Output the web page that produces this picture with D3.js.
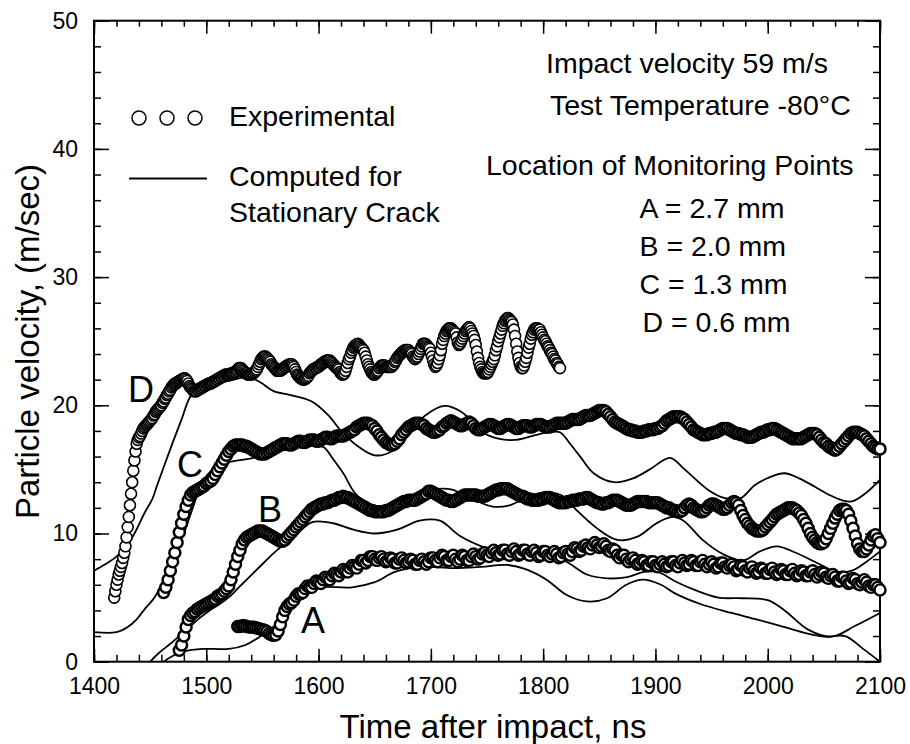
<!DOCTYPE html>
<html>
<head>
<meta charset="utf-8">
<script src="https://cdn.jsdelivr.net/npm/d3@7"></script>
<style>
  body { margin: 0; background: #fff; }
  svg { display: block; font-family: "Liberation Sans", Arial, Helvetica, sans-serif; }
  .axis path { display: none; }
  .axis line { stroke: #000; stroke-width: 1.5; }
  .axis text { font-size: 23px; fill: #000; font-family: "Liberation Sans", Arial, sans-serif; }
</style>
</head>
<body>
<svg width="910" height="744"></svg>
<script>
// Particle velocity at four monitoring points (A-D)

// tick labels
var xTicks = [1400, 1500, 1600, 1700, 1800, 1900, 2000, 2100];
var yTicks = [0, 10, 20, 30, 40, 50];

// experimental series: first time (ns), sample step (ns), velocities (m/s)
var expDStart = 1418, expDStep = 1;
var expD = [
  5.0,5.5,6.0,6.4,6.8,7.1,7.4,7.7,8.1,8.5,
  9.0,9.7,10.5,11.3,12.2,13.1,14.0,14.9,15.7,16.4,
  17.0,17.3,17.5,17.6,17.8,18.0,18.2,18.3,18.4,18.5,
  18.6,18.7,18.8,18.9,19.0,19.2,19.3,19.5,19.6,19.7,
  19.8,19.9,20.0,20.2,20.3,20.5,20.6,20.8,20.9,21.1,
  21.2,21.4,21.5,21.6,21.7,21.7,21.8,21.85,21.9,21.95,
  22.0,22.05,22.1,22.1,22.0,21.9,21.7,21.5,21.4,21.3,
  21.2,21.1,21.1,21.1,21.2,21.2,21.3,21.3,21.4,21.4,
  21.5,21.5,21.6,21.6,21.7,21.7,21.7,21.8,21.8,21.9,
  21.9,22.0,22.0,22.1,22.1,22.2,22.2,22.3,22.3,22.4,
  22.4,22.4,22.4,22.4,22.5,22.5,22.5,22.6,22.6,22.7,
  22.8,22.9,22.9,22.9,22.8,22.7,22.6,22.5,22.5,22.4,
  22.4,22.4,22.4,22.5,22.5,22.6,22.7,22.8,23.0,23.2,
  23.4,23.6,23.7,23.8,23.8,23.8,23.7,23.6,23.5,23.4,
  23.2,23.1,23.0,22.9,22.8,22.7,22.7,22.7,22.7,22.8,
  22.8,22.9,23.0,23.0,23.1,23.1,23.2,23.2,23.2,23.1,
  23.0,22.8,22.6,22.4,22.3,22.2,22.1,22.1,22.0,22.0,
  22.05,22.1,22.2,22.3,22.5,22.6,22.7,22.8,22.8,22.9,
  22.9,23.0,23.0,23.1,23.2,23.2,23.3,23.4,23.4,23.5,
  23.5,23.5,23.5,23.4,23.3,23.2,23.1,23.0,22.9,22.9,
  22.8,22.6,22.5,22.4,22.4,22.5,22.7,23.0,23.3,23.6,
  23.8,24.1,24.3,24.5,24.6,24.7,24.75,24.8,24.7,24.6,
  24.5,24.4,24.3,24.1,23.8,23.5,23.2,23.0,22.8,22.6,
  22.5,22.4,22.4,22.5,22.6,22.7,22.9,23.0,23.1,23.1,
  23.1,23.1,23.0,23.0,23.0,23.0,23.0,23.0,23.1,23.2,
  23.4,23.5,23.7,23.8,23.9,24.0,24.1,24.2,24.2,24.3,
  24.3,24.3,24.3,24.2,24.1,24.0,23.8,23.7,23.6,23.7,
  23.8,24.0,24.2,24.4,24.6,24.8,24.8,24.8,24.7,24.6,
  24.5,24.4,24.1,23.8,23.5,23.2,23.0,23.1,23.3,23.6,
  23.9,24.3,24.8,25.1,25.4,25.6,25.8,25.9,26.0,26.0,
  26.0,25.9,25.8,25.7,25.6,25.3,24.9,24.7,24.8,25.0,
  25.2,25.4,25.6,25.8,25.9,26.0,26.1,26.0,25.8,25.6,
  25.4,25.1,24.7,24.2,23.7,23.3,23.0,22.8,22.6,22.5,
  22.5,22.5,22.5,22.6,22.8,23.0,23.2,23.4,23.6,23.9,
  24.3,24.6,25.0,25.3,25.6,25.9,26.2,26.4,26.6,26.7,
  26.8,26.8,26.7,26.6,26.5,26.3,25.9,25.4,24.8,24.2,
  23.7,23.3,23.0,22.9,22.9,23.1,23.4,23.7,24.1,24.5,
  24.8,25.2,25.5,25.7,25.9,26.0,26.0,26.0,25.9,25.9,
  25.7,25.5,25.3,25.1,25.0,24.8,24.6,24.5,24.3,24.1,
  24.0,23.8,23.6,23.5,23.3,23.2,23.0,22.9
];

var expCStart = 1462, expCStep = 2;
var expC = [
  5.4,5.8,6.4,7.1,7.8,8.5,9.3,10.1,10.8,11.5,
  12.1,12.6,13.0,13.2,13.3,13.4,13.5,13.6,13.7,13.9,
  14.0,14.1,14.3,14.6,14.9,15.2,15.5,15.8,16.1,16.4,
  16.6,16.8,16.9,16.9,16.9,16.9,16.8,16.8,16.7,16.6,
  16.5,16.4,16.3,16.2,16.2,16.2,16.3,16.4,16.5,16.6,
  16.7,16.8,16.9,17.0,17.0,17.0,16.9,16.9,17.0,17.1,
  17.2,17.2,17.1,17.1,17.2,17.3,17.3,17.3,17.2,17.2,
  17.3,17.4,17.5,17.5,17.4,17.4,17.5,17.6,17.6,17.6,
  17.6,17.7,17.8,17.9,18.0,18.1,18.3,18.4,18.5,18.6,
  18.6,18.6,18.5,18.4,18.2,18.0,17.7,17.5,17.3,17.1,
  17.0,16.9,16.9,17.0,17.2,17.4,17.7,17.9,18.1,18.3,
  18.4,18.5,18.6,18.6,18.6,18.5,18.4,18.2,18.1,18.0,
  17.9,17.9,18.0,18.1,18.3,18.4,18.6,18.7,18.8,18.7,
  18.6,18.5,18.4,18.4,18.5,18.6,18.7,18.6,18.4,18.2,
  18.1,18.1,18.2,18.3,18.4,18.5,18.5,18.4,18.3,18.2,
  18.2,18.3,18.4,18.5,18.5,18.4,18.3,18.2,18.2,18.3,
  18.4,18.4,18.4,18.3,18.3,18.4,18.5,18.5,18.5,18.4,
  18.3,18.3,18.3,18.4,18.5,18.6,18.6,18.6,18.6,18.6,
  18.7,18.8,18.9,18.9,18.9,18.9,19.0,19.1,19.2,19.2,
  19.2,19.3,19.4,19.5,19.6,19.6,19.6,19.5,19.3,19.1,
  18.9,18.7,18.6,18.5,18.4,18.3,18.2,18.1,18.1,18.0,
  18.0,17.9,17.9,17.9,18.0,18.0,18.1,18.1,18.1,18.2,
  18.2,18.3,18.4,18.6,18.8,18.9,19.0,19.1,19.1,19.1,
  19.1,19.0,18.9,18.7,18.5,18.3,18.1,18.0,17.9,17.8,
  17.7,17.7,17.7,17.8,17.8,17.9,17.9,18.0,18.1,18.2,
  18.2,18.2,18.1,18.0,17.9,17.8,17.8,17.7,17.7,17.6,
  17.5,17.5,17.5,17.6,17.7,17.8,17.9,17.9,18.0,18.1,
  18.1,18.2,18.2,18.1,18.0,17.9,17.8,17.7,17.6,17.5,
  17.4,17.4,17.4,17.4,17.4,17.5,17.6,17.7,17.8,17.8,
  17.8,17.7,17.5,17.3,17.1,17.0,16.8,16.7,16.6,16.5,
  16.6,16.8,17.0,17.2,17.4,17.6,17.8,17.9,17.9,17.9,
  17.8,17.7,17.6,17.4,17.2,17.0,16.8,16.7,16.6,16.6
];

var expBStart = 1476, expBStep = 2;
var expB = [
  0.9,1.3,2.0,2.7,3.3,3.6,3.8,3.9,4.1,4.2,
  4.3,4.4,4.5,4.6,4.7,4.8,4.9,5.1,5.2,5.3,
  5.5,5.7,5.9,6.4,7.0,7.6,8.2,8.7,9.2,9.5,
  9.7,9.8,9.9,10.0,10.1,10.2,10.2,10.2,10.1,10.0,
  9.9,9.8,9.7,9.6,9.5,9.4,9.4,9.5,9.7,9.9,
  10.1,10.3,10.5,10.7,10.9,11.1,11.3,11.5,11.7,11.9,
  12.0,12.1,12.2,12.3,12.3,12.4,12.4,12.5,12.6,12.6,
  12.7,12.8,12.8,12.9,12.8,12.8,12.7,12.6,12.5,12.4,
  12.3,12.2,12.1,12.0,11.9,11.8,11.8,11.7,11.7,11.7,
  11.7,11.7,11.8,11.8,11.9,12.0,12.1,12.2,12.3,12.4,
  12.5,12.5,12.6,12.6,12.6,12.6,12.7,12.8,12.9,13.0,
  13.1,13.3,13.3,13.2,13.1,13.0,12.9,12.8,12.7,12.6,
  12.6,12.5,12.5,12.6,12.7,12.8,12.9,13.0,13.0,13.0,
  13.0,13.0,13.0,12.9,12.9,12.9,12.9,13.0,13.1,13.2,
  13.3,13.4,13.4,13.5,13.5,13.5,13.5,13.4,13.3,13.2,
  13.1,13.0,12.9,12.9,12.8,12.7,12.7,12.6,12.6,12.6,
  12.6,12.7,12.7,12.8,12.8,12.8,12.7,12.6,12.5,12.4,
  12.4,12.4,12.4,12.5,12.5,12.6,12.6,12.6,12.7,12.7,
  12.7,12.8,12.8,12.7,12.6,12.5,12.4,12.4,12.3,12.3,
  12.4,12.4,12.5,12.6,12.6,12.6,12.5,12.4,12.3,12.2,
  12.2,12.2,12.3,12.4,12.5,12.5,12.5,12.5,12.5,12.4,
  12.4,12.4,12.4,12.4,12.3,12.2,12.1,12.0,12.0,11.9,
  11.8,11.8,11.7,11.7,11.8,12.0,12.2,12.3,12.2,12.0,
  11.9,11.8,11.7,11.7,11.8,12.0,12.2,12.3,12.3,12.2,
  12.1,12.0,11.9,11.9,12.0,12.2,12.4,12.5,12.4,12.2,
  11.8,11.4,11.1,10.8,10.6,10.4,10.3,10.2,10.2,10.2,
  10.3,10.5,10.7,10.9,11.1,11.3,11.5,11.6,11.7,11.8,
  11.9,12.0,12.0,12.0,11.9,11.8,11.6,11.4,11.1,10.8,
  10.4,10.0,9.7,9.5,9.3,9.2,9.2,9.3,9.6,10.0,
  10.4,10.8,11.2,11.5,11.8,11.9,11.9,11.8,11.5,11.0,
  10.4,9.8,9.2,8.8,8.6,8.6,8.8,9.1,9.5,9.8,
  9.9,9.6,9.3
];

var expAStart = 1528, expAStep = 2;
var expA = [
  2.75,2.75,2.8,2.8,2.75,2.7,2.7,2.7,2.65,2.6,
  2.55,2.5,2.45,2.35,2.2,2.1,2.05,2.1,2.4,2.9,
  3.5,4.0,4.3,4.5,4.6,4.8,5.1,5.3,5.3,5.4,
  5.7,5.9,5.8,5.8,6.1,6.3,6.2,6.1,6.4,6.6,
  6.5,6.4,6.7,6.9,6.8,6.7,7.0,7.2,7.1,7.0,
  7.3,7.5,7.4,7.3,7.6,7.9,7.9,7.7,7.9,8.2,
  8.2,8.0,7.9,8.1,8.2,8.0,7.8,7.9,8.1,8.0,
  7.7,7.7,8.0,8.1,7.9,7.7,7.8,8.0,7.9,7.6,
  7.6,7.9,8.0,7.8,7.6,7.8,8.1,8.1,7.9,7.8,
  8.1,8.3,8.2,7.9,7.9,8.2,8.3,8.0,7.8,8.0,
  8.3,8.2,7.9,7.9,8.2,8.4,8.2,8.0,8.1,8.4,
  8.5,8.3,8.2,8.5,8.7,8.5,8.3,8.4,8.7,8.7,
  8.4,8.3,8.6,8.8,8.6,8.3,8.4,8.7,8.7,8.4,
  8.3,8.6,8.7,8.5,8.2,8.3,8.6,8.6,8.3,8.2,
  8.4,8.6,8.4,8.1,8.2,8.5,8.6,8.4,8.3,8.6,
  8.9,8.8,8.6,8.7,9.0,9.1,8.9,8.8,9.1,9.3,
  9.1,8.9,9.0,9.2,9.0,8.7,8.6,8.8,8.7,8.3,
  8.1,8.3,8.3,8.0,7.8,8.0,8.1,7.9,7.6,7.7,
  7.9,7.8,7.5,7.5,7.8,7.8,7.5,7.4,7.6,7.8,
  7.6,7.4,7.5,7.8,7.8,7.5,7.4,7.7,7.9,7.7,
  7.5,7.6,7.9,7.8,7.5,7.5,7.8,7.9,7.6,7.4,
  7.6,7.8,7.6,7.3,7.4,7.7,7.7,7.4,7.3,7.5,
  7.6,7.4,7.1,7.2,7.5,7.4,7.1,7.0,7.3,7.4,
  7.1,6.9,7.0,7.3,7.2,6.9,6.9,7.2,7.3,7.0,
  6.8,6.9,7.2,7.1,6.8,6.8,7.1,7.2,6.9,6.7,
  6.8,7.1,7.0,6.7,6.7,7.0,7.1,6.8,6.6,6.8,
  7.0,6.9,6.6,6.5,6.7,6.8,6.6,6.3,6.3,6.6,
  6.6,6.3,6.1,6.2,6.5,6.4,6.1,6.0,6.2,6.4,
  6.2,5.9,5.8,6.0,6.0,5.8,5.6
];

// computed (stationary crack) curves: [time ns, velocity m/s]
var compD = [[1400,7.1],[1410,7.6],[1420,8.2],[1428,8.9],[1436,10.0],[1445,11.6],[1452,12.7],[1456,13.7],
  [1463,15.4],[1471,17.3],[1478,18.9],[1486,20.7],[1494,21.3],[1505,21.6],[1520,21.9],[1537,22.2],
  [1548,21.8],[1560,21.1],[1575,20.8],[1594,20.3],[1609,19.2],[1621,17.9],[1635,16.8],[1650,16.1],
  [1665,16.4],[1680,17.8],[1695,19.2],[1712,19.95],[1727,19.5],[1737,18.7],[1746,17.9],[1760,17.4],
  [1775,17.3],[1790,17.6],[1805,17.9],[1815,17.9],[1824,17.0],[1833,16.0],[1845,14.7],[1863,14.0],
  [1880,14.3],[1895,15.0],[1913,15.9],[1926,15.0],[1947,13.4],[1962,12.75],[1975,12.7],[1989,13.8],
  [2002,14.4],[2015,14.7],[2028,14.3],[2042,13.65],[2055,13.0],[2066,12.6],[2075,12.5],[2088,13.2],[2100,14.2]];
var compC = [[1400,2.3],[1420,2.3],[1430,2.7],[1438,3.3],[1446,4.2],[1453,4.9],[1460,6.0],[1468,7.4],
  [1475,9.0],[1480,10.0],[1488,12.0],[1497,14.1],[1506,15.0],[1518,15.5],[1542,15.9],[1569,16.5],
  [1598,16.9],[1605,16.7],[1613,15.8],[1622,14.7],[1632,13.2],[1643,12.4],[1656,12.1],[1672,12.35],
  [1685,12.9],[1700,13.4],[1718,13.45],[1739,12.6],[1755,12.1],[1770,12.2],[1790,13.0],[1805,13.2],
  [1818,12.9],[1830,11.8],[1848,10.4],[1866,9.5],[1884,9.75],[1901,10.8],[1915,11.3],[1925,11.0],
  [1942,9.5],[1960,8.4],[1978,7.9],[1993,8.6],[2008,9.0],[2025,8.5],[2044,7.7],[2062,7.0],
  [2075,7.1],[2088,7.8],[2100,8.6]];
var compB = [[1450,0],[1458,0.7],[1468,1.4],[1476,2.0],[1485,2.7],[1494,3.4],[1503,4.0],[1512,4.5],
  [1521,5.1],[1529,5.8],[1536,6.4],[1544,7.1],[1551,7.7],[1563,8.7],[1575,9.5],[1585,10.3],
  [1595,10.9],[1613,10.8],[1631,10.3],[1650,10.0],[1670,10.3],[1690,11.0],[1708,11.0],[1726,9.8],
  [1748,8.9],[1770,8.4],[1795,8.2],[1818,7.9],[1839,6.8],[1857,6.5],[1875,6.6],[1890,7.0],
  [1902,7.0],[1917,6.3],[1935,5.6],[1956,5.0],[1977,4.95],[2000,4.8],[2015,4.0],[2036,2.5],
  [2057,1.95],[2078,2.8],[2100,3.8]];
var compA = [[1462,0],[1470,0.45],[1480,0.8],[1497,1.0],[1520,1.0],[1535,1.3],[1545,1.8],[1557,2.5],
  [1566,3.3],[1575,4.3],[1586,5.3],[1600,5.8],[1630,5.8],[1650,6.2],[1668,7.0],[1690,7.4],
  [1720,7.3],[1745,7.4],[1768,7.55],[1785,7.2],[1803,6.4],[1821,5.2],[1839,4.7],[1857,4.95],
  [1874,6.0],[1889,6.4],[1905,6.0],[1917,5.35],[1940,4.5],[1968,3.8],[1990,3.3],[2015,2.7],
  [2035,2.2],[2051,1.95],[2069,2.0],[2085,1.0],[2100,0]];

var pointLabels = ["D", "C", "B", "A"];
var notes = ["Impact velocity 59 m/s", "Test Temperature -80\u00B0C", "Location of Monitoring Points",
  "A = 2.7 mm", "B = 2.0 mm", "C = 1.3 mm", "D = 0.6 mm"];

// Canvas
var svg = d3.select("svg");

var x = d3.scaleLinear().domain([1400, 2100]).range([94, 880]),
    y = d3.scaleLinear().domain([0, 50]).range([661.7, 20.7]);

svg.append("clipPath").attr("id", "plot")
  .append("rect").attr("x", 94).attr("y", 20.7).attr("width", 786).attr("height", 641);

// minor + major ticks on all four sides, pointing inwards
svg.append("g").attr("class", "axis").attr("transform", "translate(0," + y(0) + ")")
  .call(d3.axisBottom(x).tickValues(d3.range(1400, 2101, 20)).tickSize(-7).tickFormat(""));
svg.append("g").attr("class", "axis").attr("transform", "translate(0," + y(0) + ")")
  .call(d3.axisBottom(x).tickValues(xTicks).tickSize(-13).tickPadding(16).tickFormat(d3.format("d")));
svg.append("g").attr("class", "axis").attr("transform", "translate(0," + y(50) + ")")
  .call(d3.axisTop(x).tickValues(d3.range(1400, 2101, 20)).tickSize(-6).tickFormat(""));
svg.append("g").attr("class", "axis").attr("transform", "translate(0," + y(50) + ")")
  .call(d3.axisTop(x).tickValues(xTicks).tickSize(-13).tickFormat(""));

svg.append("g").attr("class", "axis").attr("transform", "translate(" + x(1400) + ",0)")
  .call(d3.axisLeft(y).tickValues(d3.range(0, 51, 2)).tickSize(-7).tickFormat(""));
svg.append("g").attr("class", "axis").attr("transform", "translate(" + x(1400) + ",0)")
  .call(d3.axisLeft(y).tickValues(yTicks).tickSize(-15).tickPadding(16));
svg.append("g").attr("class", "axis").attr("transform", "translate(" + x(2100) + ",0)")
  .call(d3.axisRight(y).tickValues(d3.range(0, 51, 2)).tickSize(-7).tickFormat(""));
svg.append("g").attr("class", "axis").attr("transform", "translate(" + x(2100) + ",0)")
  .call(d3.axisRight(y).tickValues(yTicks).tickSize(-15).tickFormat(""));

// frame
svg.append("rect")
  .attr("x", x(1400)).attr("y", y(50))
  .attr("width", x(2100) - x(1400)).attr("height", y(0) - y(50))
  .attr("fill", "none").attr("stroke", "#000").attr("stroke-width", 2);

// computed curves
var line = d3.line()
  .x(function(d) { return x(d[0]); })
  .y(function(d) { return y(d[1]); })
  .curve(d3.curveCatmullRom.alpha(0.5));

svg.append("g").attr("clip-path", "url(#plot)")
  .selectAll("path")
  .data([compD, compC, compB, compA])
  .enter().append("path")
    .attr("d", line)
    .attr("fill", "none")
    .attr("stroke", "#000")
    .attr("stroke-width", 1.8);

// experimental points, open circles drawn in time order
var expSeries = [
  {start: expDStart, step: expDStep, values: expD, sw: 1.6},
  {start: expCStart, step: expCStep, values: expC, sw: 2.5},
  {start: expBStart, step: expBStep, values: expB, sw: 2.5},
  {start: expAStart, step: expAStep, values: expA, sw: 2.4}
];

expSeries.forEach(function(s) {
  svg.append("g")
    .selectAll("circle")
    .data(s.values)
    .enter().append("circle")
      .attr("cx", function(d, i) { return x(s.start + i * s.step); })
      .attr("cy", function(d) { return y(d); })
      .attr("r", 5.5)
      .attr("fill", "#fff")
      .attr("stroke", "#000")
      .attr("stroke-width", s.sw);
});

// curve letters
var letterPos = [[128, 402], [177, 477], [258, 522], [301, 633]];
svg.selectAll(".plabel")
  .data(pointLabels)
  .enter().append("text")
    .attr("class", "plabel")
    .attr("x", function(d, i) { return letterPos[i][0]; })
    .attr("y", function(d, i) { return letterPos[i][1]; })
    .attr("font-size", 36)
    .text(function(d) { return d; });

// legend
svg.selectAll(".lcirc")
  .data([139, 167, 195])
  .enter().append("circle")
    .attr("class", "lcirc")
    .attr("cx", function(d) { return d; })
    .attr("cy", 118)
    .attr("r", 7)
    .attr("fill", "#fff").attr("stroke", "#000").attr("stroke-width", 1.5);
svg.append("line")
  .attr("x1", 129).attr("x2", 207).attr("y1", 178.5).attr("y2", 178.5)
  .attr("stroke", "#000").attr("stroke-width", 1.8);

var legendText = svg.append("g").attr("font-size", 28.5);
legendText.append("text").attr("x", 229).attr("y", 126).text("Experimental");
legendText.append("text").attr("x", 229).attr("y", 186).text("Computed for");
legendText.append("text").attr("x", 229).attr("y", 221.5).text("Stationary Crack");

// notes on the right
var notePos = [[546, 73], [550, 115], [486, 175], [639.5, 218], [639.5, 255.5], [639.5, 293.5], [642.5, 332]];
svg.append("g").attr("font-size", 28.5)
  .selectAll("text")
  .data(notes)
  .enter().append("text")
    .attr("x", function(d, i) { return notePos[i][0]; })
    .attr("y", function(d, i) { return notePos[i][1]; })
    .text(function(d) { return d; });

// axis titles
svg.append("text")
  .attr("x", 493).attr("y", 738)
  .attr("text-anchor", "middle")
  .attr("font-size", 33)
  .text("Time after impact, ns");

svg.append("text")
  .attr("transform", "translate(38.5,341.5) rotate(-90)")
  .attr("text-anchor", "middle")
  .attr("font-size", 33)
  .text("Particle velocity, (m/sec)");
</script>
</body>
</html>
